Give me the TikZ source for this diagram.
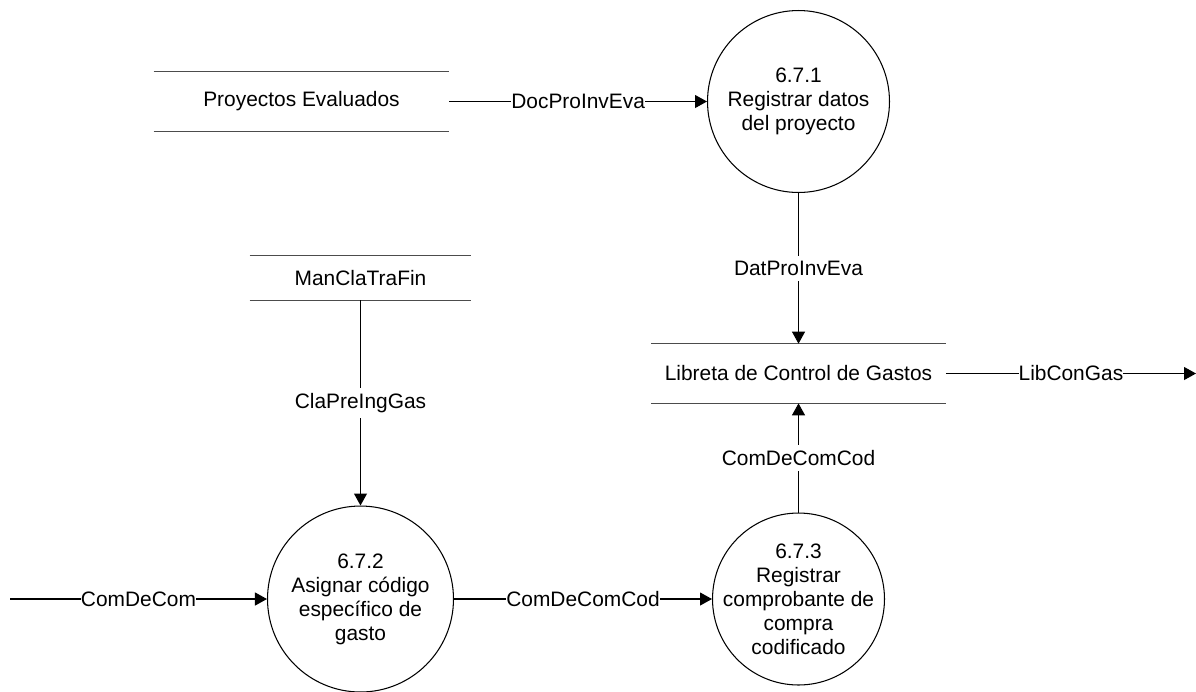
\documentclass[tikz,border=0pt]{standalone}
\usepackage{fontspec}
\setmainfont{Liberation Sans}
\usetikzlibrary{arrows.meta, positioning}

\begin{document}
\begin{tikzpicture}[
    x=0.02cm, y=-0.02cm,
    >={Triangle[length=0.24cm, width=0.26cm]},
    font=\fontsize{11.9}{13.7}\selectfont,
    proc/.style={draw, circle, line width=0.6pt, minimum size=#1, inner sep=0pt},
    ptxt/.style={align=center, inner sep=0pt},
    store/.style={minimum height=1.18cm, inner sep=0pt},
    storeline/.style={line width=0.7pt, black!70},
    flow/.style={->, line width=0.6pt},
    lbl/.style={fill=white, inner xsep=0pt, inner ysep=3pt}
]
\useasboundingbox (0,0) rectangle (1196,691);

% ---- almacenes de datos ----
\node[store, minimum width=5.9cm] (proy) at (301.5,101.5) {Proyectos Evaluados};
\node[store, minimum width=4.42cm, minimum height=0.88cm] (man) at (360.5,278) {ManClaTraFin};
\node[store, minimum width=5.88cm] (lib) at (798.5,373.5) {Libreta de Control de Gastos};

\foreach \s in {proy, man, lib}{%
  \draw[storeline] (\s.north west) -- (\s.north east)
                   (\s.south west) -- (\s.south east);
}

% ---- procesos ----
\node[proc=3.64cm, label={[ptxt]center:{6.7.1\\Registrar datos\\del proyecto}}]
     (p1) at (798.5,101.5) {};
\node[proc=3.72cm, label={[ptxt]center:{6.7.2\\Asignar código\\específico de\\gasto}}]
     (p2) at (360.5,599) {};
\node[proc=3.44cm, label={[ptxt]center:{6.7.3\\Registrar\\comprobante de\\compra\\codificado}}]
     (p3) at (798.5,599) {};

\coordinate (in) at (10,599);
\coordinate (out) at (1196,373.5);

% ---- flujos ----
\draw[flow] (proy) -- node[lbl]{DocProInvEva} (p1);
\draw[flow] (p1) -- node[lbl]{DatProInvEva} (lib);
\draw[flow] (man) -- node[lbl]{ClaPreIngGas} (p2);
\draw[flow] (in) -- node[lbl]{ComDeCom} (p2);
\draw[flow] (p2) -- node[lbl]{ComDeComCod} (p3);
\draw[flow] (p3) -- node[lbl]{ComDeComCod} (lib);
\draw[flow] (lib) -- node[lbl]{LibConGas} (out);
\end{tikzpicture}
\end{document}
